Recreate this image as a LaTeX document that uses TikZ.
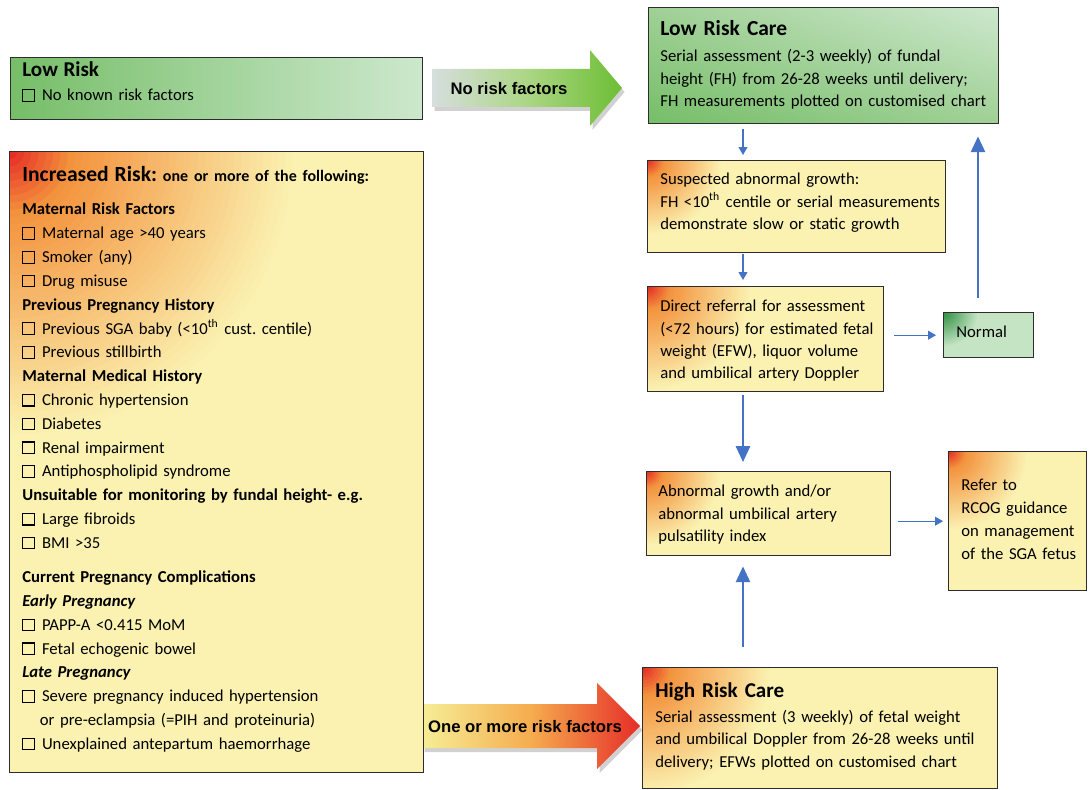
\documentclass[tikz,border=0pt]{standalone}
\usepackage{fontspec}
\setmainfont{Carlito}
\newfontfamily\arialfont{Liberation Sans}
\usetikzlibrary{arrows.meta, shadows, shadings}
\frenchspacing

\definecolor{boxyel}{RGB}{251,242,178}
\definecolor{hotred}{RGB}{228,32,36}
\definecolor{hotorange}{RGB}{243,146,60}
\definecolor{boxline}{RGB}{45,45,45}
\definecolor{arrblue}{RGB}{68,114,196}
\definecolor{grdark}{RGB}{118,190,104}
\definecolor{grmid}{RGB}{160,208,150}
\definecolor{grlight}{RGB}{205,232,205}
\definecolor{grnormal}{RGB}{196,228,196}
\definecolor{grcorner}{RGB}{40,140,60}
\definecolor{arrpale}{RGB}{214,222,222}
\definecolor{arrmid}{RGB}{172,214,132}
\definecolor{arrgreen}{RGB}{108,190,52}
\definecolor{arryel}{RGB}{246,238,150}
\definecolor{arrorange}{RGB}{245,172,78}
\definecolor{arrred}{RGB}{230,45,40}

% empty check box in front of each risk factor
\newcommand{\cb}{{\fboxsep=0pt\fboxrule=0.6pt\fbox{\rule{6pt}{0pt}\rule{0pt}{6pt}}}\hspace{4pt}}

\begin{document}
\begin{tikzpicture}[x=0.02cm, y=-0.02cm,
    box/.style={draw=boxline, line width=0.8pt, anchor=north west, inner sep=0pt},
    yelbox/.style={box, fill=boxyel},
    % red-orange glow in the top left corner, as rings
    hot/.style={path picture={
        \foreach \k in {40,39,...,1}{
          \pgfmathtruncatemacro{\hotp}{\k>9 ? 100*(40-\k)/31 : 100*(9-\k)/9}
          \ifnum\k>9 \colorlet{hotmix}{hotorange!\hotp!boxyel}\else\colorlet{hotmix}{hotred!\hotp!hotorange}\fi
          \fill[hotmix] (path picture bounding box.north west) circle [radius={#1*\k/40}];
        }}},
    lowgreen/.style={left color=grdark, right color=grlight},
    lrcgreen/.style={lower left=grdark, upper right=grlight, upper left=grmid, lower right=grmid},
    normalbox/.style={fill=grnormal, path picture={
        \foreach \k in {20,19,...,1}{
          \pgfmathtruncatemacro{\grp}{100*(20-\k)/20}
          \colorlet{grmix}{grcorner!\grp!grnormal}
          \fill[grmix] (path picture bounding box.north west) circle [radius={0.7cm*\k/20}];
        }}},
    txt/.style={anchor=base west, inner sep=0pt, align=left, text width=#1},
    lbl/.style={anchor=base, inner sep=0pt, font=\arialfont\bfseries\fontsize{9.5}{11}\selectfont},
    bigshadow/.style={drop shadow={shadow xshift=0.05cm, shadow yshift=-0.08cm, opacity=0.3, fill=black!60}},
    thinarr/.style={draw=arrblue, line width=0.7pt, -{Triangle[width=5pt,length=4.5pt]}},
    thickarr/.style={draw=arrblue, line width=1.4pt, -{Triangle[width=8pt,length=9pt]}}]
    \useasboundingbox (0,0) rectangle (1089,790);

    % big arrows
    \path[bigshadow, left color=arrpale, right color=arrgreen, middle color=arrmid]
        (432,69) -- (590,69) -- (590,50) -- (622,88) -- (590,126) -- (590,107) -- (432,107) -- cycle;
    \path[bigshadow, left color=arryel, right color=arrred, middle color=arrorange]
        (422,704) -- (597,704) -- (597,683) -- (640,726) -- (597,769) -- (597,748) -- (422,748) -- cycle;
    \node[lbl] (norisk) at (509,95) {No risk factors};
    \node[lbl] (somerisk) at (525,732) {One or more risk factors};

    % boxes
    \node[box, lowgreen, minimum width=8.24cm, minimum height=1.24cm] (lowrisk) at (10,57) {};
    \node[yelbox, hot=5.8cm, minimum width=8.28cm, minimum height=12.42cm] (incr) at (9,151) {};
    \node[box, lrcgreen, minimum width=7cm, minimum height=2.32cm] (lowcare) at (648,7) {};
    \node[yelbox, hot=1.5cm, minimum width=5.96cm, minimum height=1.84cm] (suspect) at (647,160) {};
    \node[yelbox, hot=2.1cm, minimum width=4.72cm, minimum height=2.1cm] (direct) at (647,286) {};
    \node[box, normalbox, minimum width=1.8cm, minimum height=0.9cm] (normal) at (943,312) {};
    \node[yelbox, hot=1.5cm, minimum width=4.88cm, minimum height=1.68cm] (abnormal) at (646,471) {};
    \node[yelbox, hot=1.6cm, minimum width=2.76cm, minimum height=2.78cm] (refer) at (948,451) {};
    \node[yelbox, hot=2.6cm, minimum width=7.1cm, minimum height=2.42cm] (highcare) at (642,667) {};

    % texts
    \node[txt=7.8cm, font=\fontsize{9.5}{13.6}\selectfont] (lowrisktxt) at (22,77)
        {{\fontsize{12}{13.6}\selectfont\bfseries Low Risk}\\ \cb No known risk factors};
    \node[txt=8cm, font=\bfseries] (incrtitle) at (22,182)
        {{\fontsize{12.3}{15}\selectfont Increased Risk:} {\fontsize{9.1}{12}\selectfont one or more of the following:}};
    \node[txt=8cm, font=\fontsize{9.5}{13.55}\selectfont] (incrlist) at (22,215)
        {\textbf{Maternal Risk Factors}\\
         \cb Maternal age >40 years\\
         \cb Smoker (any)\\
         \cb Drug misuse\\
         \textbf{Previous Pregnancy History}\\
         \cb Previous SGA baby (<10\textsuperscript{th} cust. centile)\\
         \cb Previous stillbirth\\
         \textbf{Maternal Medical History}\\
         \cb Chronic hypertension\\
         \cb Diabetes\\
         \cb Renal impairment\\
         \cb Antiphospholipid syndrome\\
         \textbf{Unsuitable for monitoring by fundal height- e.g.}\\
         \cb Large fibroids\\
         \cb BMI >35\\[6pt]
         \textbf{Current Pregnancy Complications}\\
         \textbf{\textit{Early Pregnancy}}\\
         \cb PAPP-A <0.415 MoM\\
         \cb Fetal echogenic bowel\\
         \textbf{\textit{Late Pregnancy}}\\
         \cb Severe pregnancy induced hypertension\\
         \hspace*{10pt}or pre-eclampsia (=PIH and proteinuria)\\
         \cb Unexplained antepartum haemorrhage};
    \node[txt=6.6cm, font=\fontsize{12.2}{14}\selectfont\bfseries] (lowcaretitle) at (660,36) {Low Risk Care};
    \node[txt=6.6cm, font=\fontsize{9.5}{12.75}\selectfont] (lowcaretxt) at (660,62)
        {Serial assessment (2-3 weekly) of fundal\\
         height (FH) from 26-28 weeks until delivery;\\
         FH measurements plotted on customised chart};
    \node[txt=5.6cm, font=\fontsize{9.5}{12.75}\selectfont] (suspecttxt) at (660,185)
        {Suspected abnormal growth:\\
         FH <10\textsuperscript{th} centile or serial measurements\\
         demonstrate slow or static growth};
    \node[txt=4.4cm, font=\fontsize{9.5}{12.65}\selectfont] (directtxt) at (660,312)
        {Direct referral for assessment\\
         (<72 hours) for estimated fetal\\
         weight (EFW), liquor volume\\
         and umbilical artery Doppler};
    \node[txt=1.5cm, font=\fontsize{9.5}{12}\selectfont] (normaltxt) at (956,338) {Normal};
    \node[txt=4.6cm, font=\fontsize{9.5}{12.75}\selectfont] (abnormaltxt) at (658,497)
        {Abnormal growth and/or\\
         abnormal umbilical artery\\
         pulsatility index};
    \node[txt=2.4cm, font=\fontsize{9.5}{13}\selectfont] (refertxt) at (961,491)
        {Refer to\\
         RCOG guidance\\
         on management\\
         of the SGA fetus};
    \node[txt=6.8cm, font=\fontsize{12}{14}\selectfont\bfseries] (hightitle) at (655,697) {High Risk Care};
    \node[txt=6.8cm, font=\fontsize{9.5}{13}\selectfont] (hightxt) at (655,722)
        {Serial assessment (3 weekly) of fetal weight\\
         and umbilical Doppler from 26-28 weeks until\\
         delivery; EFWs plotted on customised chart};

    % connectors
    \coordinate (spine) at (743,0);
    \coordinate (rline) at (978,0);
    \draw[thinarr, shorten <=0.1cm, shorten >=0.1cm] (lowcare.south -| spine) -- (suspect.north -| spine);
    \draw[thinarr, shorten <=0.02cm, shorten >=0.12cm] (suspect.south -| spine) -- (direct.north -| spine);
    \draw[thickarr, shorten <=0.06cm, shorten >=0.18cm] (direct.south -| spine) -- (abnormal.north -| spine);
    \draw[thickarr, shorten <=0.4cm, shorten >=0.2cm] (highcare.north -| spine) -- (abnormal.south -| spine);
    \draw[thickarr, shorten <=0.28cm, shorten >=0.24cm] (normal.north -| rline) -- (lowcare.south -| rline);
    \draw[thinarr, shorten <=0.2cm, shorten >=0.14cm] (normal.west -| direct.east) -- (normal.west);
    \draw[thinarr, shorten <=0.14cm, shorten >=0.1cm] (refer.west -| abnormal.east) -- (refer.west);
\end{tikzpicture}
\end{document}
